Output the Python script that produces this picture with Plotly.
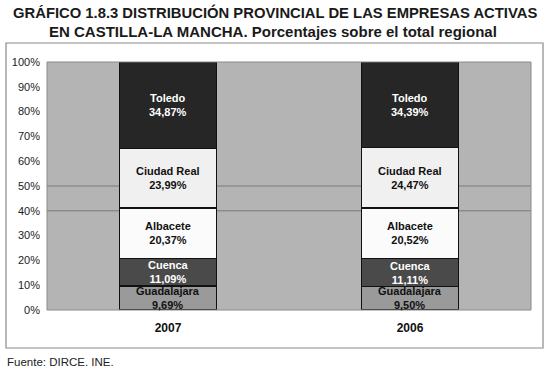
import plotly.graph_objects as go

years = ["2007", "2006"]
provinces = ["Guadalajara", "Cuenca", "Albacete", "Ciudad Real", "Toledo"]
values = {
    "Guadalajara": [9.69, 9.50],
    "Cuenca": [11.09, 11.11],
    "Albacete": [20.37, 20.52],
    "Ciudad Real": [23.99, 24.47],
    "Toledo": [34.87, 34.39],
}
colors = {
    "Guadalajara": "#9a9a9a",
    "Cuenca": "#4a4a4a",
    "Albacete": "#fbfbfb",
    "Ciudad Real": "#f0f0f0",
    "Toledo": "#262626",
}
text_colors = {
    "Guadalajara": "#111111",
    "Cuenca": "#ffffff",
    "Albacete": "#111111",
    "Ciudad Real": "#111111",
    "Toledo": "#ffffff",
}
y_ticks = [0, 10, 20, 30, 40, 50, 60, 70, 80, 90, 100]
grid_lines = [40, 50]
title_lines = [
    "GRÁFICO 1.8.3 DISTRIBUCIÓN PROVINCIAL DE LAS EMPRESAS ACTIVAS",
    "EN CASTILLA-LA MANCHA. Porcentajes sobre el total regional",
]
source_text = "Fuente: DIRCE. INE."

FONT = "Liberation Sans, Arial, sans-serif"

fig = go.Figure()
annotations = []
cum = [0.0] * len(years)
for p in provinces:
    vals = values[p]
    fig.add_trace(go.Bar(
        x=years, y=vals, name=p,
        marker=dict(color=colors[p], line=dict(color="#111111", width=1.2)),
        width=0.4, textposition="none", hoverinfo="skip",
    ))
    for i in range(len(years)):
        mid = cum[i] + vals[i] / 2
        label = f"{p}<br>{vals[i]:.2f}%".replace(".", ",")
        annotations.append(dict(
            x=i, y=mid, xref="x", yref="y", text=f"<b>{label}</b>",
            showarrow=False, align="center",
            font=dict(family=FONT, size=11, color=text_colors[p]),
        ))
        cum[i] += vals[i]

shapes = []
for g in grid_lines:
    shapes.append(dict(type="line", xref="paper", x0=0, x1=1, yref="y", y0=g, y1=g,
                       line=dict(color="#7a7a7a", width=1), layer="below"))
# plot area border
shapes.append(dict(type="rect", xref="paper", yref="paper", x0=0, x1=1, y0=0, y1=1,
                   line=dict(color="#8a8a8a", width=1), layer="above"))
# outer frame
shapes.append(dict(type="rect", xref="paper", yref="paper",
                   x0=-0.0847, x1=1.0248, y0=-0.1532, y1=1.0766,
                   line=dict(color="#8a8a8a", width=1.2), layer="below"))

# title lines
for txt, xp, yp, sz in [(title_lines[0], 0.471, 1.1976, 14.8),
                        (title_lines[1], 0.467, 1.121, 15.0)]:
    annotations.append(dict(
        xref="paper", yref="paper", x=xp, y=yp, xanchor="center", yanchor="middle",
        text=f"<b>{txt}</b>", showarrow=False,
        font=dict(family=FONT, size=sz, color="#1a1a1a"),
    ))

annotations.append(dict(
    xref="paper", yref="paper", x=-0.087, y=-0.2097, xanchor="left", yanchor="middle",
    text=source_text, showarrow=False,
    font=dict(family=FONT, size=11.5, color="#222222"),
))

fig.update_layout(
    width=550, height=371,
    margin=dict(l=47, r=19, t=62, b=61),
    barmode="stack",
    showlegend=False,
    paper_bgcolor="white",
    plot_bgcolor="#b4b4b4",
    font=dict(family=FONT, color="#222222"),
    xaxis=dict(
        type="category", range=[-0.5, len(years) - 0.5],
        showgrid=False, showline=False, zeroline=False,
        tickfont=dict(family=FONT, size=12, color="#111111"),
        tickprefix="<b>", ticksuffix="</b>",
        ticklabelstandoff=9,
    ),
    yaxis=dict(
        range=[0, 100], tickvals=y_ticks,
        ticktext=[f"{v}%" for v in y_ticks],
        showgrid=False, zeroline=False, showline=False,
        tickfont=dict(family=FONT, size=11, color="#222222"),
        ticks="", ticklabelstandoff=6,
    ),
    shapes=shapes,
    annotations=annotations,
)

fig.write_html("out.html", config={"displayModeBar": False},
               post_script="document.body.style.margin='0';")
